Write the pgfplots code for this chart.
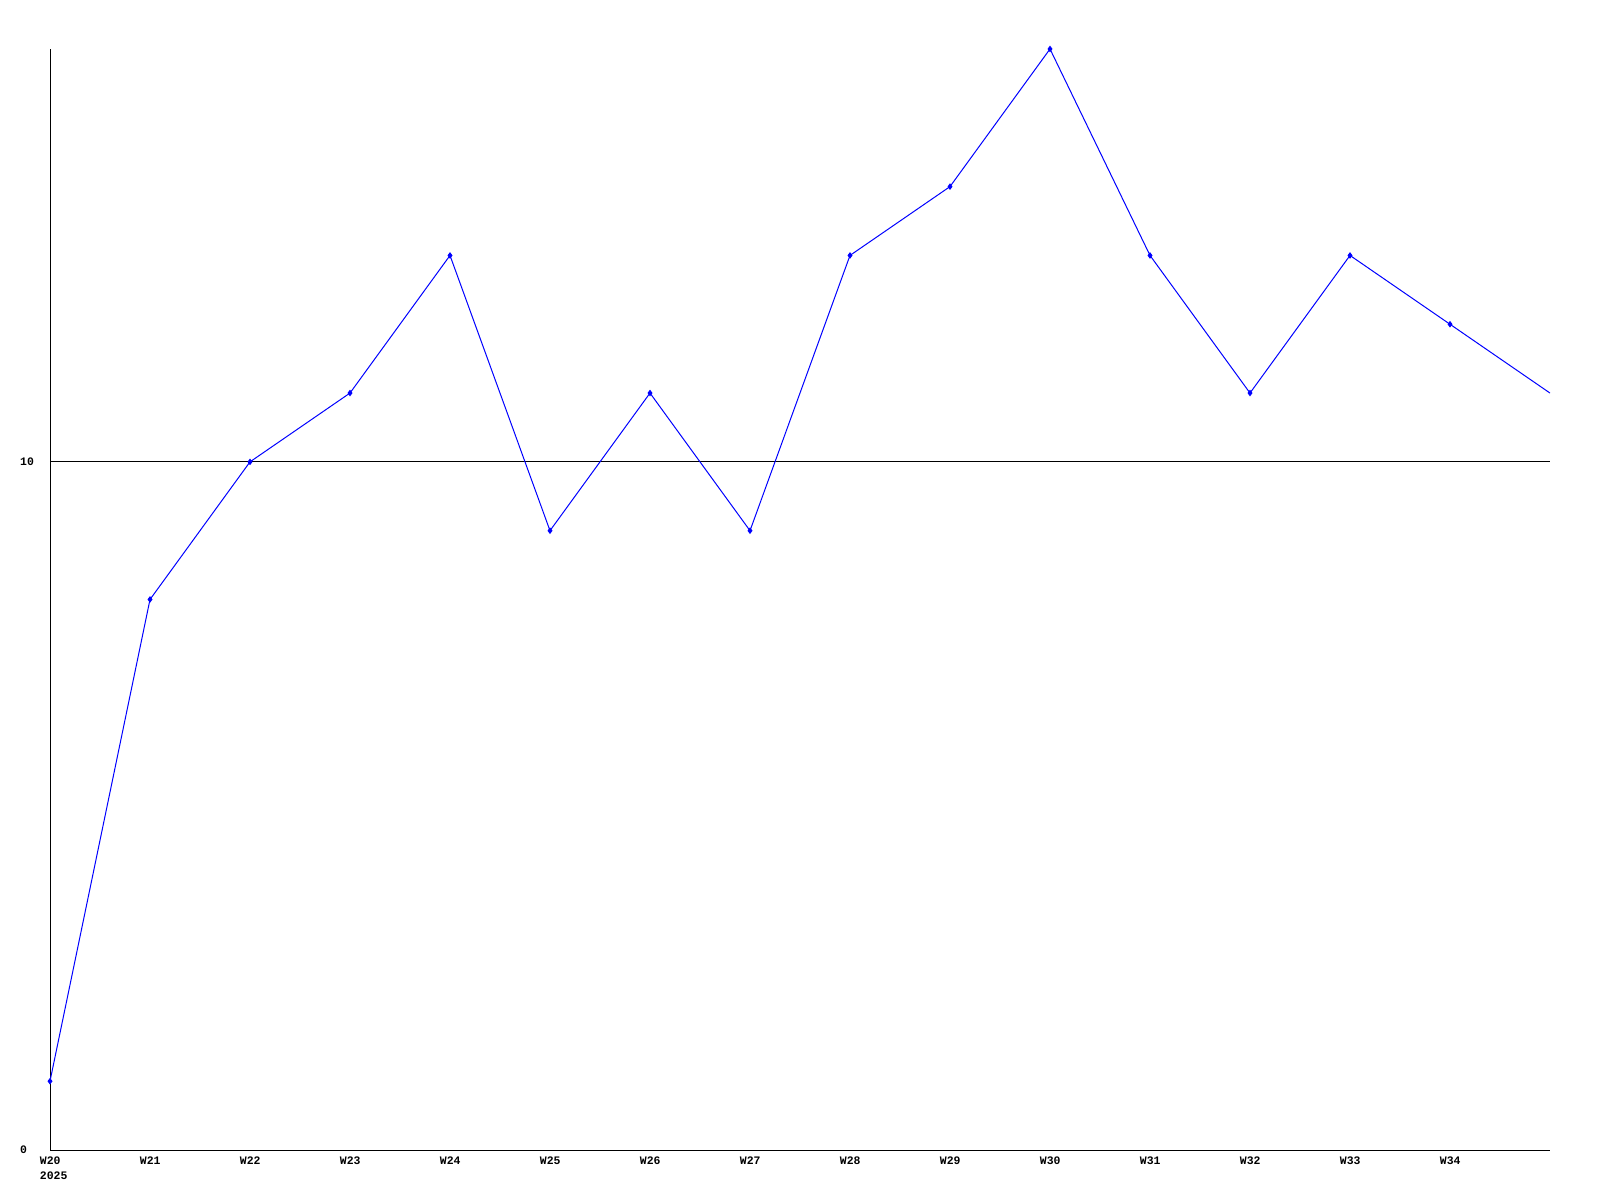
\documentclass[border=0pt]{standalone}
\usepackage{pgfplots}
\pgfplotsset{compat=1.18}
\usepackage{fontspec}
\setmainfont{Liberation Mono}
\begin{document}
\begin{tikzpicture}
\path[use as bounding box] (0,0) rectangle (1600bp,1200bp);
\begin{axis}[
  at={(50bp,50bp)}, anchor=south west,
  scale only axis, width=1500bp, height=1101bp,
  xmin=0, xmax=15, ymin=0, ymax=16,
  axis x line=bottom, axis y line=left,
  axis line style={-, black, line width=1bp},
  xtick={0,1,2,3,4,5,6,7,8,9,10,11,12,13,14},
  xticklabels={{W20\\2025},W21,W22,W23,W24,W25,W26,W27,W28,W29,W30,W31,W32,W33,W34},
  ytick={0,10}, yticklabels={0,10},
  major tick length=0pt,
  ymajorgrids, grid style={black, line width=1bp},
  tick label style={font=\fontsize{11.5}{15}\selectfont\bfseries, inner sep=0pt},
  xticklabel style={anchor=north west, xshift=-10.3bp, yshift=-7bp, align=left},
  yticklabel style={anchor=west, xshift=-30bp},
  /pgf/number format/assume math mode=true,
  clip=true,
]
\addplot[color={rgb,255:red,0;green,0;blue,255}, line width=1bp, mark=diamond*, mark size=2.5bp,
  mark indices={1,2,3,4,5,6,7,8,9,10,11,12,13,14,15}] coordinates {
(0,1) (1,8) (2,10) (3,11) (4,13) (5,9) (6,11) (7,9) (8,13) (9,14) (10,16) (11,13) (12,11) (13,13) (14,12) (15,11)
};
\end{axis}
\end{tikzpicture}
\end{document}
